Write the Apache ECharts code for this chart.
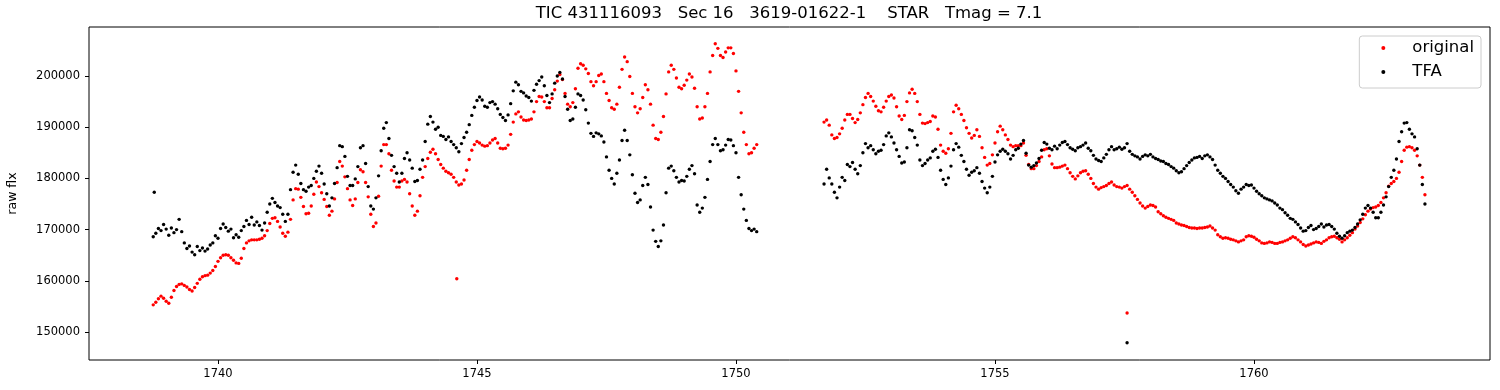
<!DOCTYPE html>
<html>
<head>
<meta charset="utf-8">
<script src="https://cdn.jsdelivr.net/npm/echarts@6/dist/echarts.min.js"></script>
<style>
  html, body { margin: 0; padding: 0; background: #fff; }
  #chart { width: 1500px; height: 390px; }
</style>
</head>
<body>
<div id="chart"></div>
<script>
// light curve sampling: time of first point in each orbit and step (days)
const cadence = 0.05;
const seg1Start = 1738.75;
const seg2Start = 1751.70;

// raw flux, in thousands, orbit 1
const originalSeg1 = [
  155.3,155.8,156.5,157.0,156.6,156.0,155.6,156.8,158.1,158.9,
  159.3,159.4,159.1,158.8,158.3,158.0,158.7,159.5,160.3,160.8,
  161.0,161.1,161.5,162.0,162.8,163.8,164.5,165.0,165.1,165.0,
  164.5,164.0,163.5,163.4,164.4,166.3,167.4,167.8,168.0,168.0,
  168.0,168.1,168.3,168.8,169.8,171.2,172.2,172.3,171.6,170.5,
  169.3,168.7,169.5,172.0,175.8,178.0,177.9,176.3,174.5,173.1,
  173.2,174.6,176.9,179.3,178.4,177.2,175.9,174.5,172.8,173.6,
  176.0,179.2,183.3,182.4,180.3,178.0,175.8,174.7,176.0,179.2,
  181.7,181.3,179.2,176.4,173.0,170.6,171.3,176.5,182.4,186.6,
  186.6,184.8,181.6,179.5,178.3,178.3,179.5,179.8,179.3,177.0,
  174.6,172.8,173.6,176.6,180.2,182.3,183.9,185.1,185.7,184.8,
  183.7,182.7,182.0,181.4,181.1,180.8,180.2,179.3,178.7,178.9,
  179.7,181.6,183.7,185.5,186.6,187.2,186.9,186.5,186.3,186.4,
  186.9,187.5,187.8,186.9,185.9,185.8,185.9,186.5,188.6,191.0,
  192.6,193.0,192.0,191.4,191.3,191.4,191.6,193.0,195.0,196.0,
  195.9,195.0,193.8,193.8,195.6,197.3,199.0,200.3,199.3,196.6,
  194.5,194.0,194.8,197.5,201.5,202.4,202.1,201.4,200.5,198.9,
  198.1,198.9,200.1,200.4,198.9,196.6,195.2,193.8,193.5,194.5,
  197.8,201.3,203.7,202.8,199.9,196.6,194.0,192.8,193.6,195.8,
  198.3,197.3,194.5,190.4,187.8,187.6,189.0,192.1,196.5,200.8,
  202.1,201.3,199.6,197.8,197.5,198.2,199.2,200.4,199.8,197.6,
  194.0,191.6,191.8,194.0,196.6,200.8,204.0,206.3,205.4,204.0,
  203.6,204.7,205.5,205.5,204.4,201.0,197.0,192.8,189.0,186.6,
  184.8,185.0,185.9,186.6
];
const tfaSeg1 = [
  168.6,169.3,170.2,169.8,171.0,170.1,168.9,170.3,169.4,170.0,
  172.0,169.6,167.4,166.3,166.8,165.6,165.1,166.7,165.9,166.4,
  165.8,166.2,167.0,167.4,168.8,168.3,170.2,171.1,170.4,169.7,
  170.1,168.4,169.0,168.5,169.8,170.6,171.8,171.0,172.4,170.9,
  171.5,170.8,169.9,171.3,173.4,175.0,176.1,175.3,174.6,174.3,
  173.0,171.6,173.0,177.8,181.2,182.6,180.8,179.0,177.8,177.5,
  178.3,178.6,180.0,181.4,182.4,181.0,178.9,177.0,174.6,176.2,
  179.0,182.1,186.4,186.2,184.3,180.4,178.6,178.6,179.9,182.3,
  186.0,186.4,182.9,178.4,174.6,174.0,176.2,180.5,185.4,189.8,
  190.9,187.8,184.5,182.3,181.0,179.3,181.0,183.9,185.0,183.6,
  182.0,179.4,179.6,181.8,183.6,187.2,190.6,192.1,191.0,189.6,
  190.0,188.4,188.2,187.6,188.1,187.2,186.6,186.0,185.2,186.8,
  188.0,189.0,190.5,192.3,193.9,195.2,195.9,195.3,194.1,193.9,
  194.8,195.0,194.5,193.6,192.5,191.9,191.3,192.4,194.6,197.1,
  198.8,198.3,197.0,196.7,196.1,195.8,195.1,197.2,198.4,199.1,
  199.8,198.1,196.2,194.8,196.5,198.6,200.0,200.7,199.4,196.0,
  193.5,191.3,191.6,193.9,196.5,196.2,195.3,193.4,190.8,188.8,
  188.2,188.9,188.7,188.3,187.1,184.2,181.6,180.0,178.9,181.0,
  183.6,187.4,189.4,187.4,184.6,180.7,177.1,175.3,175.8,178.6,
  180.2,178.8,174.4,169.9,167.7,166.7,167.8,170.9,177.2,182.0,
  182.4,181.5,180.2,179.3,179.6,179.5,180.4,181.8,182.5,180.9,
  174.8,173.4,174.2,176.3,179.8,183.3,186.6,187.8,186.6,185.4,
  185.6,186.5,187.6,187.5,186.4,185.0,180.2,176.8,174.0,171.8,
  170.2,169.8,170.1,169.6
];

// raw flux, in thousands, orbit 2
const originalSeg2 = [
  191.0,191.4,190.4,188.5,187.8,188.0,188.7,189.8,191.4,192.5,
  192.5,191.7,190.9,191.5,192.8,194.4,195.8,196.6,196.0,195.1,
  194.1,193.2,193.0,193.9,195.1,196.0,196.3,195.7,194.0,192.2,
  191.5,192.3,195.0,196.7,197.4,196.6,195.0,192.5,190.8,190.7,
  190.9,191.1,192.2,192.0,189.6,186.5,185.3,184.9,185.8,188.8,
  193.0,194.3,193.6,192.5,191.3,189.9,188.8,187.9,188.4,189.5,
  188.2,186.0,184.1,182.6,182.9,184.6,186.9,189.1,190.2,189.5,
  188.5,187.6,186.5,186.2,186.4,186.4,186.4,186.9,184.5,182.7,
  181.9,181.9,182.5,183.3,184.2,185.6,185.8,184.4,182.8,182.1,
  182.1,182.2,182.4,182.6,181.9,181.1,180.4,179.9,180.5,181.1,
  181.4,181.5,180.8,180.0,179.0,178.3,177.9,178.2,178.4,178.6,
  179.0,179.3,178.7,178.4,178.3,178.1,178.4,178.6,177.9,177.3,
  176.6,175.9,175.2,174.6,174.2,174.5,174.8,174.7,174.4,173.5,
  173.1,172.7,172.4,172.2,172.0,171.8,171.3,171.1,170.9,170.8,
  170.6,170.4,170.3,170.3,170.2,170.3,170.3,170.4,170.5,170.7,
  170.3,169.9,169.0,168.6,168.3,168.4,168.3,168.1,168.0,167.8,
  167.6,167.8,168.0,168.6,168.8,168.7,168.5,168.1,167.8,167.4,
  167.3,167.4,167.6,167.5,167.3,167.3,167.5,167.6,167.8,168.0,
  168.3,168.6,168.4,168.0,167.6,167.1,166.8,167.0,167.2,167.4,
  167.6,167.5,167.3,167.7,168.0,168.4,168.6,168.7,168.4,168.1,
  167.6,168.0,168.4,168.9,169.4,170.1,170.7,171.4,172.1,172.9,
  173.6,174.0,174.3,174.4,174.7,175.3,176.2,177.2,178.5,179.0,
  179.4,180.0,181.2,183.3,185.5,186.1,186.2,186.0,185.5,184.4,
  182.6,180.2,176.8
];
const tfaSeg2 = [
  178.9,181.8,180.1,178.9,177.3,176.2,178.3,180.2,179.6,182.7,
  182.3,183.1,181.8,180.9,182.5,185.0,186.8,186.0,186.4,185.6,
  184.8,185.3,185.5,186.6,188.3,188.9,188.1,186.9,185.6,184.3,
  183.0,183.2,186.0,189.5,189.3,188.0,186.5,183.6,182.5,182.9,
  183.6,184.0,185.3,185.7,184.1,181.6,179.8,178.8,180.1,182.4,
  185.6,186.8,186.1,184.5,183.3,181.8,180.6,181.2,181.5,182.1,
  181.0,179.4,178.1,177.2,178.3,180.4,183.2,184.6,185.3,185.7,
  185.3,184.8,183.8,184.5,185.6,185.9,186.7,187.4,184.9,182.6,
  182.2,182.5,183.0,183.9,185.5,187.0,186.7,185.9,185.6,186.3,
  185.8,186.5,187.0,187.2,186.6,186.0,185.7,185.4,186.0,186.2,
  186.5,186.9,185.9,185.4,184.5,183.8,183.5,183.3,184.0,184.7,
  185.6,186.2,185.6,185.8,186.1,185.7,186.0,186.8,185.3,184.7,
  184.4,184.2,183.8,184.3,184.6,184.4,184.7,184.2,183.9,183.7,
  183.4,183.3,182.9,182.7,182.3,182.0,181.5,181.1,181.3,181.9,
  182.5,183.1,183.6,184.0,184.1,184.3,183.9,184.4,184.6,184.2,
  183.7,182.6,181.6,181.0,180.4,180.0,179.4,178.8,178.3,177.6,
  177.1,177.9,178.3,178.8,178.6,178.7,178.1,177.5,177.0,176.6,
  176.2,176.0,175.8,175.6,175.2,174.8,174.2,173.9,173.3,172.8,
  172.2,172.0,171.5,171.0,170.3,169.7,169.8,170.4,170.8,170.0,
  170.2,170.6,171.1,170.5,170.9,171.0,170.6,170.1,169.3,168.7,
  168.3,168.8,169.4,169.7,169.9,170.4,171.1,171.9,173.0,174.2,
  174.7,174.2,173.4,172.3,172.3,173.4,174.8,176.4,178.4,180.2,
  181.6,183.8,187.2,189.1,190.8,190.9,189.6,188.7,188.1,185.8,
  182.6,178.8,175.0
];

// isolated points [time, flux in thousands]
const originalOutliers = [[1744.61, 160.4], [1757.55, 153.7]];
const tfaOutliers = [[1738.77, 177.3], [1757.55, 147.9]];

const xTicks = [1740, 1745, 1750, 1755, 1760];
const yTicks = [150000, 160000, 170000, 180000, 190000, 200000];
const titleText = 'TIC 431116093   Sec 16   3619-01622-1    STAR   Tmag = 7.1';

function toPoints(start, vals) {
  return vals.map((v, i) => [+(start + i * cadence).toFixed(2), v * 1000]);
}
function buildSeries(seg1, seg2, extra) {
  return toPoints(seg1Start, seg1)
    .concat(toPoints(seg2Start, seg2))
    .concat(extra.map(p => [p[0], p[1] * 1000]));
}

const originalData = buildSeries(originalSeg1, originalSeg2, originalOutliers);
const tfaData = buildSeries(tfaSeg1, tfaSeg2, tfaOutliers);

const myChart = echarts.init(document.getElementById('chart'), null, { renderer: 'canvas' });
const fontFamily = 'DejaVu Sans';

const options = {
  animation: false,
  backgroundColor: '#fff',
  textStyle: { fontFamily: fontFamily },
  graphic: [{
    type: 'text',
    x: 789,
    y: 14,
    silent: true,
    style: {
      text: titleText,
      fill: '#000',
      fontSize: 16.5,
      fontFamily: fontFamily,
      align: 'center',
      verticalAlign: 'middle'
    }
  }],
  grid: {
    left: 89, right: 10, top: 27, bottom: 30,
    show: true,
    borderColor: '#000',
    borderWidth: 1,
    containLabel: false,
    outerBoundsMode: 'none'
  },
  legend: {
    data: ['original', 'TFA'],
    orient: 'vertical',
    right: 19,
    top: 36,
    icon: 'circle',
    itemWidth: 4,
    itemHeight: 4,
    itemGap: 6,
    padding: [3, 7, 7, 22],
    borderColor: '#cccccc',
    borderWidth: 1,
    borderRadius: 3,
    backgroundColor: 'rgba(255,255,255,0.8)',
    textStyle: { fontSize: 16.5, color: '#000', padding: [0, 0, 0, 22], lineHeight: 18 }
  },
  xAxis: {
    type: 'value',
    min: 1737.51,
    max: 1764.556,
    axisLine: { show: false, onZero: false },
    axisTick: { show: true, length: 4, lineStyle: { color: '#000' }, customValues: xTicks },
    axisLabel: { customValues: xTicks, color: '#000', fontSize: 11.5, margin: 8, formatter: v => String(Math.round(v)) },
    splitLine: { show: false }
  },
  yAxis: {
    type: 'value',
    min: 144530,
    max: 209570,
    name: 'raw flx',
    nameLocation: 'middle',
    nameRotate: 90,
    nameGap: 70,
    nameTextStyle: { fontSize: 12.5, color: '#000' },
    axisLine: { show: false, onZero: false },
    axisTick: { show: true, length: 4, lineStyle: { color: '#000' }, customValues: yTicks },
    axisLabel: { customValues: yTicks, color: '#000', fontSize: 11.5, margin: 9, formatter: v => String(Math.round(v)) },
    splitLine: { show: false }
  },
  series: [
    {
      name: 'original',
      type: 'scatter',
      data: originalData,
      symbol: 'circle',
      symbolSize: 3.4,
      itemStyle: { color: '#ff0000', opacity: 1 },
      silent: true
    },
    {
      name: 'TFA',
      type: 'scatter',
      data: tfaData,
      symbol: 'circle',
      symbolSize: 3.4,
      itemStyle: { color: '#000000', opacity: 1 },
      silent: true
    }
  ]
};

myChart.setOption(options);
</script>
</body>
</html>
